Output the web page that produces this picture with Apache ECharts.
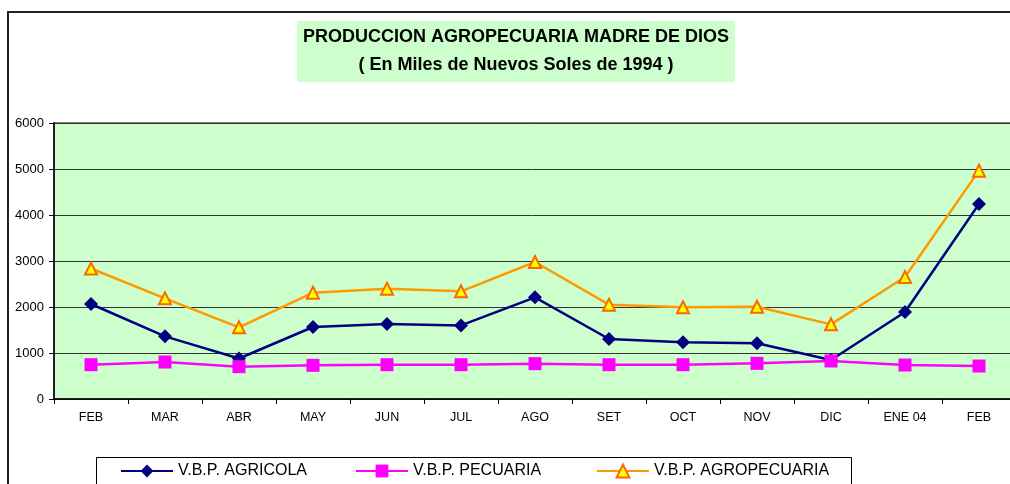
<!DOCTYPE html>
<html>
<head>
<meta charset="utf-8">
<script src="https://cdn.jsdelivr.net/npm/echarts@6/dist/echarts.min.js"></script>
<style>
html, body { margin: 0; padding: 0; background: #fff; }
#chart { width: 1010px; height: 484px; }
</style>
</head>
<body>
<div id="chart"></div>
<script>
const months = ["FEB", "MAR", "ABR", "MAY", "JUN", "JUL", "AGO", "SET", "OCT", "NOV", "DIC", "ENE 04", "FEB"]
const agricola = [2065, 1362, 880, 1565, 1630, 1600, 2210, 1304, 1232, 1210, 848, 1891, 4239]
const pecuaria = [746, 804, 703, 732, 746, 746, 768, 746, 746, 775, 826, 739, 717]
const agropecuaria = [2837, 2188, 1558, 2312, 2399, 2341, 2978, 2051, 1993, 2007, 1623, 2652, 4964]
const yTicks = [0, 1000, 2000, 3000, 4000, 5000, 6000]

const font = "Liberation Sans, Arial, sans-serif"
const chart = echarts.init(document.getElementById("chart"), null, { renderer: "canvas" })

const legendBase = {
    top: 463,
    orient: "horizontal",
    itemWidth: 52,
    itemHeight: 16,
    itemGap: 0,
    padding: 0,
    selectedMode: false,
    textStyle: { fontFamily: font, fontSize: 16, color: "#000", lineHeight: 16 },
}

chart.setOption({
    animation: false,
    backgroundColor: "#fff",
    graphic: [
        // outer chart frame
        { type: "rect", z: -10, shape: { x: 8, y: 12, width: 1100, height: 600 },
          style: { fill: "#fff", stroke: "#222", lineWidth: 2 } },
        // title box
        { type: "rect", z: -5, shape: { x: 297, y: 21, width: 438, height: 61 },
          style: { fill: "#CCFFCC" } },
        // legend box
        { type: "rect", z: -5, shape: { x: 96.5, y: 457.5, width: 755, height: 60 },
          style: { fill: "#fff", stroke: "#000", lineWidth: 1 } },
    ],
    title: {
        text: "PRODUCCION AGROPECUARIA MADRE DE DIOS\n( En Miles de Nuevos Soles de 1994 )",
        left: 516,
        top: 23,
        textAlign: "center",
        padding: 0,
        textStyle: { fontFamily: font, fontSize: 18, fontWeight: "bold", color: "#000", lineHeight: 28, align: "center" },
    },
    legend: [
        Object.assign({}, legendBase, { left: 120, data: ["V.B.P. AGRICOLA"] }),
        Object.assign({}, legendBase, { left: 355, data: ["V.B.P. PECUARIA"] }),
        Object.assign({}, legendBase, { left: 596, data: ["V.B.P. AGROPECUARIA"] }),
    ],
    grid: {
        left: 54,
        right: -6,
        top: 123,
        bottom: 85,
        outerBoundsMode: "none",
        containLabel: false,
        show: true,
        backgroundColor: "#CCFFCC",
        borderColor: "#808080",
        borderWidth: 2,
    },
    xAxis: {
        type: "category",
        data: months,
        boundaryGap: true,
        axisLine: { lineStyle: { color: "#000", width: 1.5 } },
        axisTick: { show: true, alignWithLabel: false, length: 5, lineStyle: { color: "#000" } },
        axisLabel: { fontFamily: font, fontSize: 12.5, color: "#000", margin: 12, interval: 0 },
    },
    yAxis: {
        type: "value",
        min: yTicks[0],
        max: yTicks[yTicks.length - 1],
        interval: 1000,
        axisLine: { show: true, lineStyle: { color: "#000", width: 1.5 } },
        axisTick: { show: true, inside: false, length: 5, lineStyle: { color: "#000" } },
        axisLabel: { fontFamily: font, fontSize: 13, color: "#000", margin: 10, formatter: v => String(v) },
        splitLine: { lineStyle: { color: "#333", width: 1 } },
    },
    series: [
        {
            name: "V.B.P. AGRICOLA",
            type: "line",
            data: agricola,
            symbol: "diamond",
            symbolSize: 14,
            lineStyle: { color: "#000080", width: 2.5 },
            itemStyle: { color: "#000080" },
        },
        {
            name: "V.B.P. PECUARIA",
            type: "line",
            data: pecuaria,
            symbol: "rect",
            symbolSize: 13,
            lineStyle: { color: "#FF00FF", width: 2.5 },
            itemStyle: { color: "#FF00FF" },
        },
        {
            name: "V.B.P. AGROPECUARIA",
            type: "line",
            data: agropecuaria,
            symbol: "triangle",
            symbolSize: 12,
            lineStyle: { color: "#FF9900", width: 2.5 },
            itemStyle: { color: "#FFFF00", borderColor: "#FF6600", borderWidth: 2 },
        },
    ],
})
</script>
</body>
</html>
